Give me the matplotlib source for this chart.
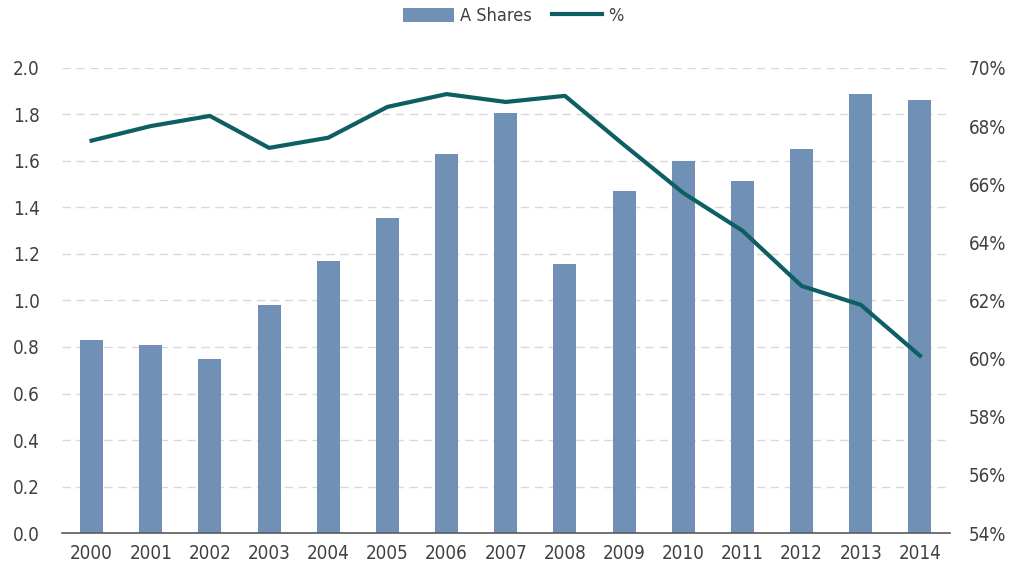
import matplotlib
matplotlib.use("Agg")
import matplotlib.pyplot as plt
from matplotlib.ticker import FuncFormatter
from matplotlib import font_manager

years = ["2000", "2001", "2002", "2003", "2004", "2005", "2006", "2007",
         "2008", "2009", "2010", "2011", "2012", "2013", "2014"]
a_shares = [0.83, 0.81, 0.75, 0.98, 1.17, 1.355, 1.63, 1.806,
            1.157, 1.47, 1.60, 1.514, 1.652, 1.888, 1.862]
pct = [67.5, 68.0, 68.35, 67.25, 67.6, 68.66, 69.1, 68.83,
       69.04, 67.35, 65.7, 64.4, 62.5, 61.85, 60.1]

bar_color = "#7190b5"
line_color = "#0e5f63"
text_color = "#404040"

# narrow face, the original uses a condensed grotesk
names = set(f.name for f in font_manager.fontManager.ttflist)
if "Liberation Sans Narrow" in names:
    plt.rcParams["font.family"] = ["Liberation Sans Narrow", "DejaVu Sans"]
else:
    plt.rcParams["font.family"] = ["DejaVu Sans"]
    plt.rcParams["font.stretch"] = "condensed"

fig = plt.figure(figsize=(10.21, 5.71), dpi=100)
ax = fig.add_axes([0.0607, 0.0665, 0.8693, 0.8145])
ax2 = ax.twinx()

x = list(range(len(years)))
bars = ax.bar(x, a_shares, width=0.39, color=bar_color, label="A Shares", zorder=2)
line, = ax2.plot(x, pct, color=line_color, linewidth=3, label="%", zorder=3)

ax.set_xlim(-0.5, 14.5)
ax.set_ylim(0, 2.0)
ax.set_yticks([i * 0.2 for i in range(11)])
ax.yaxis.set_major_formatter(FuncFormatter(lambda v, p: "%.1f" % v))
ax2.set_ylim(54, 70)
ax2.set_yticks(range(54, 71, 2))
ax2.yaxis.set_major_formatter(FuncFormatter(lambda v, p: "%d%%" % v))

ax.set_xticks(x)
ax.set_xticklabels(years)

ax.grid(axis="y", linestyle=(0, (6, 4)), color="#d9d9d9", linewidth=1, zorder=0)
ax.set_axisbelow(True)

for a in (ax, ax2):
    for s in ("top", "left", "right", "bottom"):
        a.spines[s].set_visible(False)
    a.tick_params(length=0, labelsize=13.5, colors=text_color)
ax.spines["bottom"].set_visible(True)
ax.spines["bottom"].set_color("#595959")
ax.spines["bottom"].set_linewidth(1.2)
ax.tick_params(axis="y", pad=16)
ax.tick_params(axis="x", pad=8)
ax2.tick_params(axis="y", pad=14)

fig.legend([bars, line], ["A Shares", "%"], loc="center",
           bbox_to_anchor=(0.503, 1 - 16 / 571), ncol=2, frameon=False,
           fontsize=13, labelcolor=text_color, handlelength=2.8,
           handleheight=0.8, columnspacing=1.1, handletextpad=0.35)

fig.savefig("out.png", dpi=100)
